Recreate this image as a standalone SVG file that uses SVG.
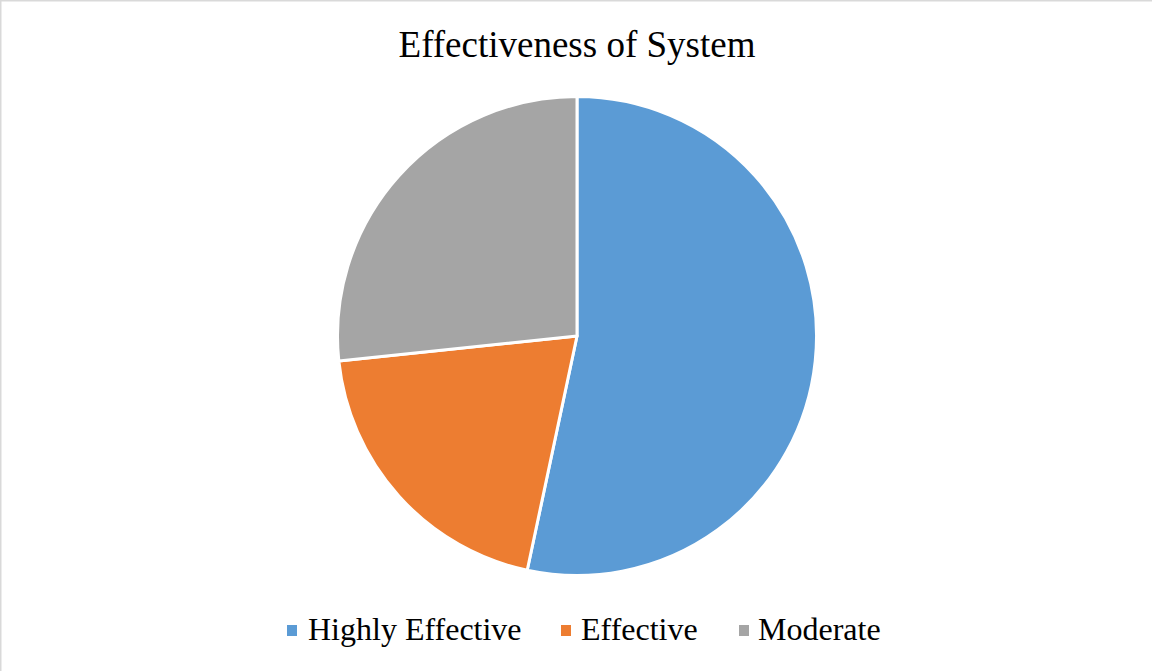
<svg xmlns="http://www.w3.org/2000/svg" width="1152" height="671" viewBox="0 0 1152 671">
  <style>
    .slice { stroke: #FFFFFF; stroke-width: 3; stroke-linejoin: round; }
    .title { font-family: "Liberation Serif", "Times New Roman", serif; font-size: 37px; fill: #000000; }
    .legend { font-family: "Liberation Serif", "Times New Roman", serif; font-size: 32px; fill: #000000; }
  </style>
  <rect x="0" y="0" width="1152" height="671" fill="#FFFFFF"/>
  <g id="border" stroke="#D9D9D9" stroke-width="1.5" fill="none">
    <line x1="0" y1="0.75" x2="1152" y2="0.75"/>
    <line x1="0.75" y1="0" x2="0.75" y2="671"/>
  </g>
  <g id="title">
    <text class="title" x="577" y="56.5" text-anchor="middle">Effectiveness of System</text>
  </g>
  <g id="pie">
    <g id="slice-highly-effective">
      <path class="slice" fill="#5B9BD5" d="M577,336 L577,96.5 A239.5,239.5 0 1 1 527.20,570.26 Z"/>
    </g>
    <g id="slice-effective">
      <path class="slice" fill="#ED7D31" d="M577,336 L527.20,570.26 A239.5,239.5 0 0 1 338.81,361.03 Z"/>
    </g>
    <g id="slice-moderate">
      <path class="slice" fill="#A5A5A5" d="M577,336 L338.81,361.03 A239.5,239.5 0 0 1 577,96.5 Z"/>
    </g>
  </g>
  <g id="legend">
    <g id="legend-highly-effective">
      <rect x="287" y="625" width="10" height="11" fill="#5B9BD5"/>
      <text class="legend" x="308" y="639.5">Highly Effective</text>
    </g>
    <g id="legend-effective">
      <rect x="561" y="625" width="10" height="11" fill="#ED7D31"/>
      <text class="legend" x="581" y="639.5">Effective</text>
    </g>
    <g id="legend-moderate">
      <rect x="739" y="625" width="10" height="11" fill="#A5A5A5"/>
      <text class="legend" x="758" y="639.5">Moderate</text>
    </g>
  </g>
</svg>
